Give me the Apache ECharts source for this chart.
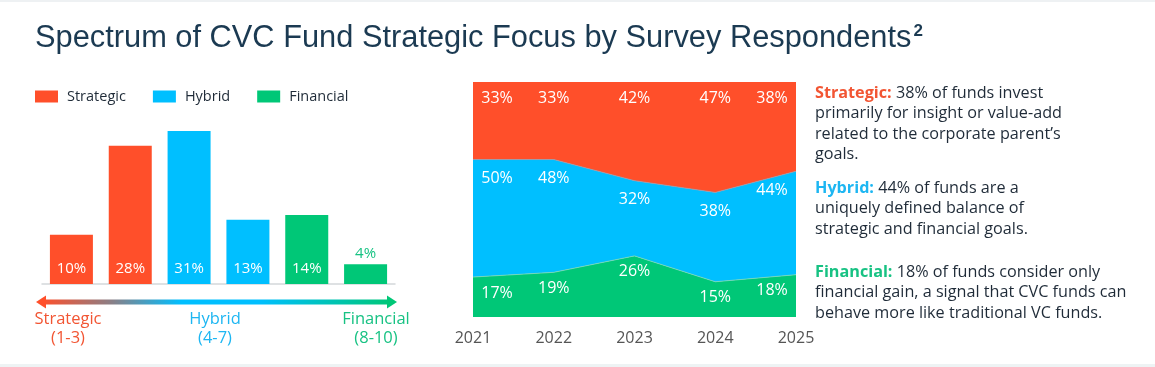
<!DOCTYPE html>
<html>
<head>
<meta charset="utf-8">
<script src="https://cdn.jsdelivr.net/npm/echarts@6/dist/echarts.min.js"></script>
<style>
html,body{margin:0;padding:0;background:#fff;}
#chart{width:1155px;height:367px;}
</style>
</head>
<body>
<div id="chart"></div>
<script>
// ---- data ----
const barCategories = ['Strategic 1', 'Strategic 2', 'Hybrid 1', 'Hybrid 2', 'Financial 1', 'Financial 2'];
const barGroups = ['Strategic', 'Strategic', 'Hybrid', 'Hybrid', 'Financial', 'Financial'];
const barValues = [10, 28, 31, 13, 14, 4];
const years = ['2021', '2022', '2023', '2024', '2025'];
const strategicShare = [33, 33, 42, 47, 38];
const hybridShare = [50, 48, 32, 38, 44];
const financialShare = [17, 19, 26, 15, 18];
const spectrumLabels = [['Strategic', '(1-3)'], ['Hybrid', '(4-7)'], ['Financial', '(8-10)']];
const titleText = 'Spectrum of CVC Fund Strategic Focus by Survey Respondents';
const noteStrategic = [' of funds invest', 'primarily for insight or value-add', 'related to the corporate parent\u2019s', 'goals.'];
const noteHybrid = [' of funds are a', 'uniquely defined balance of', 'strategic and financial goals.'];
const noteFinancial = [' of funds consider only', 'financial gain, a signal that CVC funds can', 'behave more like traditional VC funds.'];

// ---- styles ----
const COLORS = { Strategic: '#FF4F2A', Hybrid: '#00BFFF', Financial: '#00C777' };
const TEXT_COLORS = { Strategic: '#F25533', Hybrid: '#1DB6F2', Financial: '#17C283' };
const FONT = '"Open Sans", "Noto Sans", sans-serif';
const DARK = '#1F2B38';

const chart = echarts.init(document.getElementById('chart'), null, { renderer: 'canvas' });

const barData = barValues.map((v, i) => {
  const g = barGroups[i];
  const inside = v >= 8;
  return {
    value: v,
    itemStyle: { color: COLORS[g] },
    label: inside
      ? { position: 'insideBottom', distance: 8, color: '#fff' }
      : { position: 'top', distance: 3, color: TEXT_COLORS[g] }
  };
});

function areaSeries(name, values, distance) {
  const last = values.length - 1;
  return {
    name: name,
    type: 'line',
    stack: 'share',
    xAxisIndex: 1,
    yAxisIndex: 1,
    symbol: 'circle',
    symbolSize: 0.01,
    showSymbol: true,
    areaStyle: { color: COLORS[name], opacity: 1 },
    lineStyle: { width: name === 'Strategic' ? 0 : 0.8, color: name === 'Financial' ? '#7fd9b4' : '#8fa0b5' },
    itemStyle: { color: COLORS[name] },
    emphasis: { disabled: true },
    data: values.map((v, i) => ({
      value: v,
      label: { offset: [i === 0 ? 24 : (i === last ? -24 : 0), 0] }
    })),
    label: {
      show: true,
      position: 'bottom',
      distance: distance,
      color: '#fff',
      fontSize: 16,
      fontFamily: FONT,
      formatter: p => p.value + '%'
    },
    z: 2
  };
}

function noteText(name, value, lines) {
  return '{h|' + name + ':}{b| ' + value + '%' + lines[0] + '}' +
    lines.slice(1).map(l => '\n{b|' + l + '}').join('');
}

const lastIdx = years.length - 1;

const option = {
  backgroundColor: '#fff',
  animation: false,
  textStyle: { fontFamily: FONT },
  title: {
    text: '{t|' + titleText + '}{s|2}',
    left: 30,
    top: 18,
    textStyle: {
      rich: {
        t: { fontFamily: '"Liberation Sans", Arial, sans-serif', fontSize: 30.8, color: '#1B3A52', fontWeight: 'normal' },
        s: { fontFamily: '"Liberation Sans", Arial, sans-serif', fontSize: 17, color: '#1B3A52', verticalAlign: 'top', padding: [0, 0, 10, 2] }
      }
    }
  },
  legend: {
    left: 35,
    top: 89,
    padding: 0,
    itemWidth: 23,
    itemHeight: 12,
    itemGap: 27,
    icon: 'rect',
    textStyle: { fontSize: 14.5, color: DARK, fontFamily: FONT, padding: [0, 0, 0, 4] },
    data: [{ name: 'Strategic' }, { name: 'Hybrid' }, { name: 'Financial' }],
    selectedMode: false
  },
  grid: [
    { left: 42, width: 353, top: 126, height: 158 },
    { left: 473, width: 323, top: 82, height: 235 }
  ],
  xAxis: [
    {
      gridIndex: 0, type: 'category', data: barCategories,
      axisLine: { lineStyle: { color: '#D4D7DA', width: 1.5 } },
      axisTick: { show: false }, axisLabel: { show: false }
    },
    {
      gridIndex: 1, type: 'category', data: years, boundaryGap: false,
      axisLine: { show: false }, axisTick: { show: false },
      axisLabel: { color: '#555', fontSize: 16, margin: 13, fontFamily: FONT }
    }
  ],
  yAxis: [
    { gridIndex: 0, type: 'value', min: 0, max: 32, show: false },
    { gridIndex: 1, type: 'value', min: 0, max: 100, show: false }
  ],
  series: [
    {
      name: 'Survey respondents',
      type: 'bar',
      xAxisIndex: 0, yAxisIndex: 0,
      barWidth: 43,
      data: barData,
      label: { show: true, fontSize: 15, fontFamily: FONT, formatter: p => p.value + '%' },
      emphasis: { disabled: true }
    },
    areaSeries('Financial', financialShare, 8),
    areaSeries('Hybrid', hybridShare, 11),
    areaSeries('Strategic', strategicShare, 8)
  ],
  graphic: [
    // top / bottom hairlines
    { type: 'rect', shape: { x: 0, y: 0, width: 1155, height: 2 }, style: { fill: '#EEF1F3' }, silent: true },
    { type: 'rect', shape: { x: 0, y: 364, width: 1155, height: 3 }, style: { fill: '#EEF3F4' }, silent: true },
    // gradient spectrum arrow
    {
      type: 'line', shape: { x1: 44, y1: 302, x2: 389, y2: 302 },
      style: {
        lineWidth: 5,
        stroke: new echarts.graphic.LinearGradient(0, 0, 1, 0, [
          { offset: 0, color: COLORS.Strategic },
          { offset: 0.2, color: '#8A7F86' },
          { offset: 0.4, color: COLORS.Hybrid },
          { offset: 0.62, color: COLORS.Hybrid },
          { offset: 1, color: COLORS.Financial }
        ])
      },
      silent: true
    },
    { type: 'polygon', shape: { points: [[36, 302], [46, 295.5], [46, 308.5]] }, style: { fill: COLORS.Strategic }, silent: true },
    { type: 'polygon', shape: { points: [[397, 302], [387, 295.5], [387, 308.5]] }, style: { fill: COLORS.Financial }, silent: true },
    // spectrum labels
    ...spectrumLabels.map((pair, i) => ({
      type: 'text',
      x: [68, 215, 376][i],
      y: 310,
      style: {
        text: pair[0] + '\n' + pair[1],
        fill: TEXT_COLORS[['Strategic', 'Hybrid', 'Financial'][i]],
        fontSize: 16.5,
        fontFamily: FONT,
        lineHeight: 19,
        align: 'center',
        verticalAlign: 'top'
      },
      silent: true
    })),
    // notes
    ...[
      ['Strategic', strategicShare[lastIdx], noteStrategic, 83],
      ['Hybrid', hybridShare[lastIdx], noteHybrid, 178],
      ['Financial', financialShare[lastIdx], noteFinancial, 262]
    ].map(n => ({
      type: 'text',
      x: 815,
      y: n[3],
      style: {
        text: noteText(n[0], n[1], n[2]),
        fill: DARK,
        fontSize: 16.2,
        fontFamily: FONT,
        lineHeight: 20.5,
        align: 'left',
        verticalAlign: 'top',
        rich: {
          h: { fill: TEXT_COLORS[n[0]], fontWeight: 'bold', fontSize: 16.2, fontFamily: FONT, lineHeight: 20.5 },
          b: { fill: DARK, fontSize: 16.2, fontFamily: FONT, lineHeight: 20.5 }
        }
      },
      silent: true
    }))
  ]
};

chart.setOption(option);
</script>
</body>
</html>
